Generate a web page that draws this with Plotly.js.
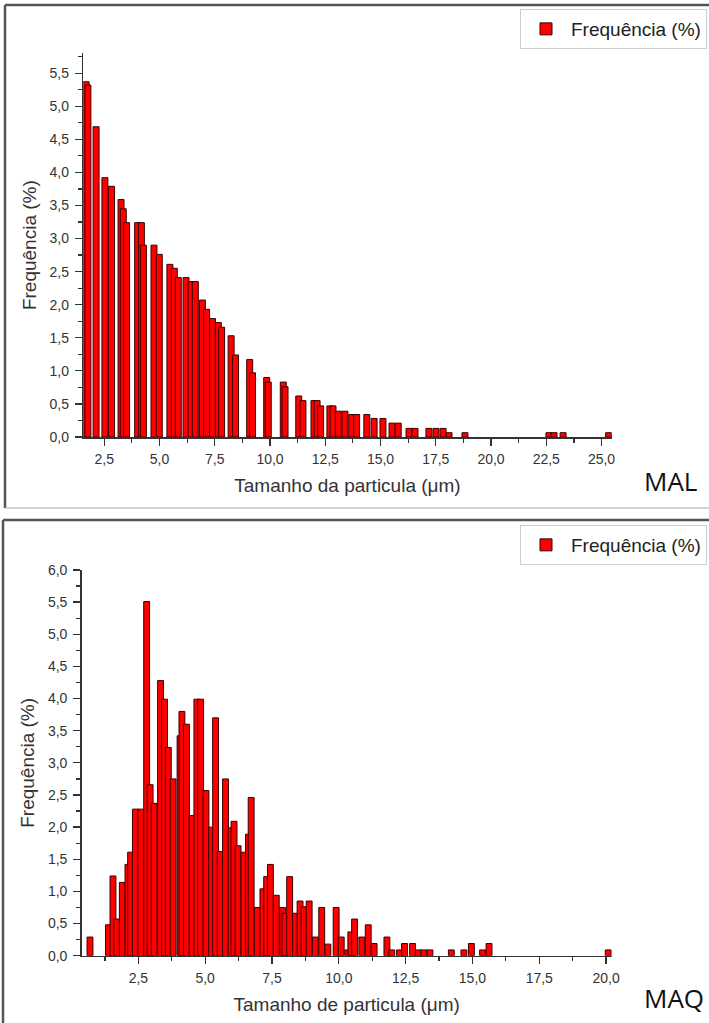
<!DOCTYPE html>
<html>
<head>
<meta charset="utf-8">
<script src="https://cdn.plot.ly/plotly-3.0.1.min.js"></script>
<style>html,body{margin:0;padding:0;background:#fff;}#chart{width:709px;height:1023px;}</style>
</head>
<body>
<div id="chart"></div>
<script>
// ---- Data: MAL (top panel) ----
const malSize = [1.68, 1.76, 2.13, 2.53, 2.83, 3.26, 3.36, 3.51, 4.01, 4.18, 4.27, 4.75, 4.99, 5.47, 5.67, 5.85, 6.20, 6.43, 6.62, 6.94, 7.13, 7.40, 7.66, 7.81, 8.24, 8.44, 9.08, 9.21, 9.85, 9.92, 10.60, 10.68, 11.30, 11.49, 11.99, 12.13, 12.29, 12.71, 12.85, 13.09, 13.39, 13.70, 13.92, 14.38, 14.71, 15.11, 15.52, 15.80, 16.29, 16.56, 17.19, 17.51, 17.83, 18.10, 18.82, 22.62, 22.85, 23.26, 25.32];
const malFreq = [5.37, 5.32, 4.69, 3.92, 3.79, 3.59, 3.45, 3.24, 3.24, 3.24, 2.90, 2.90, 2.76, 2.61, 2.55, 2.41, 2.41, 2.35, 2.35, 2.07, 1.93, 1.79, 1.73, 1.66, 1.53, 1.24, 1.17, 0.97, 0.90, 0.83, 0.83, 0.76, 0.62, 0.55, 0.55, 0.55, 0.47, 0.47, 0.47, 0.39, 0.39, 0.34, 0.34, 0.34, 0.28, 0.28, 0.21, 0.21, 0.13, 0.13, 0.13, 0.13, 0.13, 0.065, 0.065, 0.065, 0.065, 0.065, 0.065];

// ---- Data: MAQ (bottom panel) ----
const maqSize = [0.69, 1.38, 1.55, 1.69, 1.90, 2.11, 2.21, 2.39, 2.59, 2.81, 2.94, 3.09, 3.33, 3.48, 3.62, 3.80, 4.06, 4.13, 4.30, 4.51, 4.69, 4.83, 5.03, 5.24, 5.39, 5.56, 5.76, 5.97, 6.08, 6.23, 6.45, 6.62, 6.72, 6.95, 7.16, 7.30, 7.44, 7.66, 7.90, 7.98, 8.16, 8.38, 8.55, 8.70, 8.89, 9.12, 9.36, 9.59, 9.90, 10.09, 10.34, 10.45, 10.59, 10.86, 11.10, 11.32, 11.80, 11.98, 12.27, 12.46, 12.76, 12.97, 13.18, 13.41, 14.21, 14.68, 14.96, 15.38, 15.62, 20.08];
const maqFreq = [0.29, 0.48, 1.24, 0.57, 1.14, 1.42, 1.61, 2.28, 2.28, 5.51, 2.66, 2.37, 4.28, 3.99, 3.24, 2.75, 3.42, 3.80, 3.60, 2.18, 3.99, 3.99, 2.57, 2.00, 3.70, 1.62, 2.75, 1.99, 2.09, 1.71, 1.61, 1.89, 2.46, 0.75, 1.04, 1.23, 1.42, 0.94, 0.75, 0.66, 1.23, 0.66, 0.85, 0.76, 0.85, 0.29, 0.75, 0.18, 0.75, 0.29, 0.09, 0.37, 0.57, 0.29, 0.48, 0.19, 0.29, 0.09, 0.09, 0.19, 0.19, 0.09, 0.09, 0.09, 0.09, 0.09, 0.19, 0.09, 0.19, 0.09];

const seriesName = 'Frequência (%)';
const yTitle = 'Frequência (%)';
const xTitleTop = 'Tamanho da particula (μm)';
const xTitleBottom = 'Tamanho de particula (μm)';
const panelLabels = ['MAL', 'MAQ'];

// ---- Geometry helpers (pixel -> paper) ----
const W = 709, H = 1023;
const px = v => v / W;
const py = v => 1 - v / H;

const barStyle = {color: '#ff0000', line: {color: '#3a0000', width: 1}};

const traces = [
  {type: 'bar', x: malSize, y: malFreq, width: 0.27, marker: barStyle, name: seriesName,
   xaxis: 'x', yaxis: 'y', legend: 'legend', hoverinfo: 'x+y'},
  {type: 'bar', x: maqSize, y: maqFreq, width: 0.22, marker: barStyle, name: seriesName,
   xaxis: 'x2', yaxis: 'y2', legend: 'legend2', hoverinfo: 'x+y'}
];

const axisCommon = {
  showline: true, linecolor: '#333', linewidth: 1.5, mirror: false,
  ticks: 'outside', ticklen: 7, tickwidth: 1.3, tickcolor: '#333',
  showgrid: false, zeroline: false, tickformat: '.1f',
  tickfont: {size: 14, color: '#333'}, fixedrange: true, automargin: false
};

function xAxis(domainPx, range, title, anchor) {
  return Object.assign({}, axisCommon, {
    domain: [px(domainPx[0]), px(domainPx[1])], range: range, anchor: anchor,
    tick0: 0, dtick: 2.5, ticklabelstandoff: 2,
    minor: {dtick: 1.25, ticks: 'outside', ticklen: 4, tickwidth: 1.2, tickcolor: '#333', showgrid: false},
    title: {text: title, font: {size: 19, color: '#333'}, standoff: 12}
  });
}
function yAxis(domainPx, range, anchor) {
  return Object.assign({}, axisCommon, {
    domain: [py(domainPx[1]), py(domainPx[0])], range: range, anchor: anchor,
    tick0: 0, dtick: 0.5, ticklabelstandoff: 3,
    minor: {dtick: 0.25, ticks: 'outside', ticklen: 4, tickwidth: 1.2, tickcolor: '#333', showgrid: false},
    title: {text: yTitle, font: {size: 19, color: '#333'}, standoff: 8}
  });
}

const lineShape = (x0, y0, x1, y1, color, w) => ({
  type: 'line', xref: 'paper', yref: 'paper', x0: px(x0), y0: py(y0), x1: px(x1), y1: py(y1),
  line: {color: color, width: w}, layer: 'above'
});

const legendCommon = {
  xanchor: 'right', yanchor: 'top', bgcolor: '#ffffff', bordercolor: '#cfcfcf', borderwidth: 1,
  font: {size: 19, color: '#222'}, itemwidth: 40
};

const layout = {
  width: W, height: H, margin: {l: 0, r: 0, t: 0, b: 0},
  paper_bgcolor: '#ffffff', plot_bgcolor: '#ffffff',
  separators: ', ',
  font: {family: '"Liberation Sans", Arial, sans-serif', color: '#333'},
  showlegend: true,
  xaxis: xAxis([83.3, 611.7], [1.552, 25.46], xTitleTop, 'y'),
  yaxis: yAxis([53.3, 437], [0, 5.8], 'x'),
  xaxis2: xAxis([81.7, 611.7], [0.38, 20.21], xTitleBottom, 'y2'),
  yaxis2: yAxis([570, 955.7], [0, 6.0], 'x2'),
  legend: Object.assign({}, legendCommon, {x: px(707), y: py(9)}),
  legend2: Object.assign({}, legendCommon, {x: px(707), y: py(525)}),
  shapes: [
    lineShape(5, 5, 709, 5, '#555', 2.5),
    lineShape(5, 5, 5, 508, '#555', 2.5),
    lineShape(5, 508, 709, 508, '#aaa', 1),
    lineShape(3, 520, 709, 520, '#555', 2.5),
    lineShape(3, 520, 3, 1023, '#555', 2.5)
  ],
  annotations: [
    {text: panelLabels[0], xref: 'paper', yref: 'paper', x: px(642), y: py(481), xanchor: 'left', yanchor: 'middle',
     showarrow: false, font: {family: '"Open Sans", "Noto Sans", sans-serif', size: 26, color: '#111'}},
    {text: panelLabels[1], xref: 'paper', yref: 'paper', x: px(642), y: py(998), xanchor: 'left', yanchor: 'middle',
     showarrow: false, font: {family: '"Open Sans", "Noto Sans", sans-serif', size: 26, color: '#111'}}
  ],
  bargap: 0
};

Plotly.newPlot('chart', traces, layout, {displayModeBar: false, staticPlot: true});
</script>
</body>
</html>
